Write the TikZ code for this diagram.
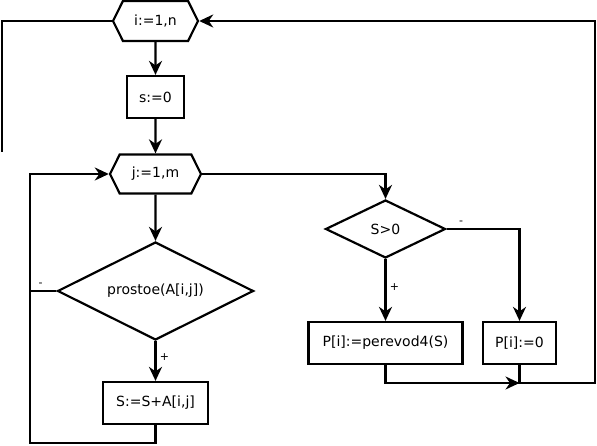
\documentclass[tikz,border=0pt]{standalone}
\usepackage{fontspec}
\setmainfont{DejaVu Sans}
\usetikzlibrary{shapes.geometric,shapes.symbols,arrows.meta}
\begin{document}
\begin{tikzpicture}[x=1pt,y=-1pt,->,line width=2.2pt,
    >={Stealth[length=14pt,width=13pt,inset=4.5pt]},
    font=\fontsize{14}{16}\selectfont,
    blok/.style={draw,rectangle,inner sep=0pt},
    cikl/.style={draw,signal,signal to=west and east,signal pointer angle=127,inner sep=0pt},
    uslovie/.style={draw,diamond,aspect=2,inner sep=0pt},
    metka/.style={font=\fontsize{11}{13}\selectfont}]
  \useasboundingbox (0,0) rectangle (597,446);
  \node[cikl,minimum width=85pt,minimum height=40pt] (i) at (155.5,21) {i:=1,n};
  \node[blok,minimum width=57pt,minimum height=42pt] (s) at (155.5,97) {s:=0};
  \node[cikl,minimum width=91pt,minimum height=39pt] (j) at (155.5,174) {j:=1,m};
  \node[uslovie,minimum width=196pt,minimum height=98pt] (p) at (155.5,291) {prostoe(A[i,j])};
  \node[blok,minimum width=105pt,minimum height=42pt] (ss) at (155.5,403) {S:=S+A[i,j]};
  \node[uslovie,minimum width=120pt,minimum height=58pt] (d) at (385.5,229) {S>0};
  \node[blok,minimum width=154pt,minimum height=42pt] (pv) at (385.5,343) {P[i]:=perevod4(S)};
  \node[blok,minimum width=73pt,minimum height=42pt] (pz) at (519.5,343) {P[i]:=0};
  \coordinate (il) at (2,152);
  \coordinate (jl) at (30,443);
  \coordinate (jn) at (519.5,383);
  \coordinate (pr) at (595,383);
  % vneshnij cikl
  \draw[-] (i.west) -| (il);
  \draw (i) -- (s);
  \draw (s) -- (j);
  % vnutrennij cikl
  \draw (j) -- (p);
  \draw (p) -- node[metka,right,pos=0.4] {+} (ss);
  \draw[-] (p.west) -- node[metka,above,pos=0.6] {-} (p.west -| jl);
  \draw (ss.south) |- (jl) |- (j.west);
  % posle cikla
  \draw (j.east) -| (d.north);
  \draw (d.east) -| node[metka,above,pos=0.1] {-} (pz.north);
  \draw (d) -- node[metka,right,pos=0.45] {+} (pv);
  \draw (pv.south) |- (jn);
  \draw (pz.south) |- (pr) |- (i.east);
\end{tikzpicture}
\end{document}
